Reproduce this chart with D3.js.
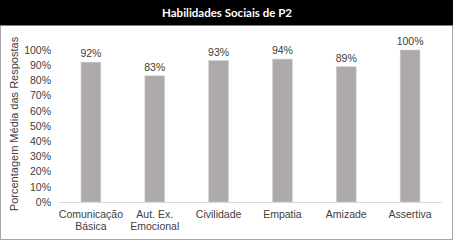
<!DOCTYPE html>
<html>
<head>
<meta charset="utf-8">
<script src="https://cdn.jsdelivr.net/npm/d3@7"></script>
<style>
  body { margin: 0; background: #fff; }
  text { font-family: "Liberation Sans", Arial, sans-serif; }
</style>
</head>
<body>
<div id="chart-container"></div>
<script>
// Chart data
const categories = ['Comunicação Básica', 'Aut. Ex. Emocional', 'Civilidade', 'Empatia', 'Amizade', 'Assertiva'];
const labelLines = [['Comunicação', 'Básica'], ['Aut. Ex.', 'Emocional'], ['Civilidade'], ['Empatia'], ['Amizade'], ['Assertiva']];
const values = [92, 83, 93, 94, 89, 100];
const yTicks = [0, 10, 20, 30, 40, 50, 60, 70, 80, 90, 100];

const svgWidth = 454;
const svgHeight = 241;

const svg = d3.select('#chart-container')
  .append('svg')
  .attr('width', svgWidth)
  .attr('height', svgHeight);

// outer frame
svg.append('rect')
  .attr('x', 0.5).attr('y', 0.5)
  .attr('width', svgWidth - 2).attr('height', svgHeight - 2)
  .attr('fill', '#fff')
  .attr('stroke', '#a6a6a6');

// title bar
svg.append('rect')
  .attr('x', 0).attr('y', 0)
  .attr('width', svgWidth - 1).attr('height', 25)
  .attr('fill', '#000');
svg.append('line')
  .attr('x1', 0).attr('x2', svgWidth - 1)
  .attr('y1', 25.5).attr('y2', 25.5)
  .attr('stroke', '#7f7f7f');

svg.append('text')
  .attr('x', 227).attr('y', 17)
  .attr('text-anchor', 'middle')
  .style('font-family', 'Lato, "Open Sans", sans-serif')
  .style('font-weight', 'bold')
  .style('font-size', '11.5px')
  .attr('fill', '#fff')
  .text('Habilidades Sociais de P2');

// Scales
const xScale = d3.scaleBand().range([59, 442]).paddingInner(0.69).paddingOuter(0.345)
  .domain(categories);
const yScale = d3.scaleLinear().range([202, 50]).domain([0, 100]);

// Bars
svg.selectAll('.bar')
  .data(values)
  .enter()
  .append('rect')
  .attr('class', 'bar')
  .attr('x', (d, i) => xScale(categories[i]))
  .attr('y', d => yScale(d))
  .attr('width', xScale.bandwidth())
  .attr('height', d => yScale(0) - yScale(d))
  .attr('fill', '#aeaaaa')
  .attr('stroke', '#d0cdcd')
  .attr('stroke-width', 0.6);

// Value labels
svg.selectAll('.val')
  .data(values)
  .enter()
  .append('text')
  .attr('class', 'val')
  .attr('x', (d, i) => xScale(categories[i]) + xScale.bandwidth() / 2)
  .attr('y', d => yScale(d) - 5)
  .attr('text-anchor', 'middle')
  .style('font-size', '10.5px')
  .attr('fill', '#404040')
  .text(d => d + '%');

// X axis
const xAxis = svg.append('g')
  .attr('transform', 'translate(0,' + yScale(0) + ')')
  .call(d3.axisBottom(xScale).tickSize(0).tickFormat(''));
xAxis.select('.domain').attr('stroke', '#d9d9d9').attr('d', 'M59,0.5H442');

categories.forEach((c, i) => {
  const t = svg.append('text')
    .attr('x', xScale(c) + xScale.bandwidth() / 2)
    .attr('y', 218)
    .attr('text-anchor', 'middle')
    .style('font-size', '10.5px')
    .attr('fill', '#404040');
  labelLines[i].forEach((line, j) => {
    t.append('tspan')
      .attr('x', xScale(c) + xScale.bandwidth() / 2)
      .attr('dy', j === 0 ? 0 : 12)
      .text(line);
  });
});

// Y axis
const yAxis = svg.append('g')
  .attr('transform', 'translate(51,0)')
  .call(d3.axisLeft(yScale).tickValues(yTicks).tickSize(0).tickPadding(0).tickFormat(d => d + '%'));
yAxis.select('.domain').remove();
yAxis.selectAll('text')
  .style('font-size', '10.5px')
  .style('font-family', '"Liberation Sans", Arial, sans-serif')
  .attr('fill', '#404040');

// Y axis title
svg.append('text')
  .attr('transform', 'translate(18,124) rotate(-90)')
  .attr('text-anchor', 'middle')
  .style('font-size', '11px')
  .attr('fill', '#404040')
  .text('Porcentagem Média das Respostas');
</script>
</body>
</html>
